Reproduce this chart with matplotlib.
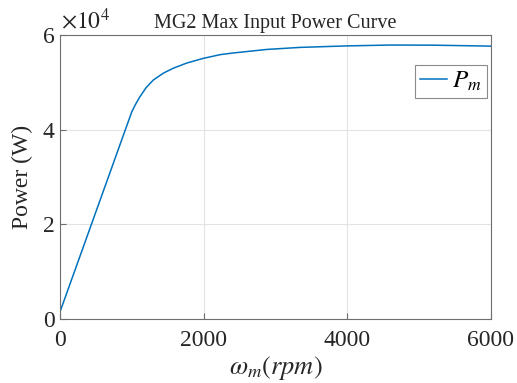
import matplotlib
matplotlib.use("Agg")
import matplotlib.pyplot as plt
from matplotlib.ticker import FuncFormatter

rpm = [0, 1000, 1050, 1110, 1200, 1300, 1440, 1580, 1760, 1990, 2230, 2410, 2880, 3340, 4000, 4600, 5200, 6000]
power = [1500, 43800, 45300, 46900, 48900, 50500, 51950, 53000, 54050, 55050, 55850, 56200, 56950, 57380, 57700, 57880, 57850, 57650]
xticks = [0, 2000, 4000, 6000]
yticks = [0, 20000, 40000, 60000]

plt.rcParams['font.family'] = ['Liberation Serif', 'DejaVu Serif']
plt.rcParams['mathtext.fontset'] = 'stix'

fig = plt.figure(figsize=(5.17, 3.83), dpi=100)
ax = fig.add_axes([60/517, 1-319/383, 431/517, 284/383])
ax.plot(rpm, power, color=(0, 0.447, 0.741), lw=1.1, label=r'$P_m$')
ax.set_xlim(0, 6000)
ax.set_ylim(0, 60000)
ax.set_xticks(xticks)
ax.set_yticks(yticks)
ax.yaxis.set_major_formatter(FuncFormatter(lambda v, p: f"{v/1e4:g}"))
ax.grid(True, color='#e3e3e3', lw=0.8)
ax.set_axisbelow(True)
for s in ax.spines.values():
    s.set_color('#6e6e6e')
    s.set_linewidth(0.8)
ax.tick_params(direction='in', length=4, color='#6e6e6e', labelsize=17, labelcolor='#262626')
ax.tick_params(axis='x', pad=8)
ax.tick_params(axis='y', pad=4)
ax.set_xlabel(r'$\omega_m(rpm)$', fontsize=19, color='#262626', labelpad=2)
ax.set_ylabel('Power (W)', fontsize=17, color='#262626', labelpad=7)
ax.set_title('MG2 Max Input Power Curve', fontsize=14.5, color='#262626', pad=5)
ax.text(0.003, 1.005, r'$\times 10^4$', transform=ax.transAxes, fontsize=17, color='#262626', ha='left', va='bottom')
leg = ax.legend(loc='upper right', bbox_to_anchor=(0.99, 0.895), fontsize=18, frameon=True, fancybox=False,
                edgecolor='#6e6e6e', handlelength=1.1, handletextpad=0.2, borderpad=0.2, borderaxespad=0)
leg.get_frame().set_linewidth(0.8)
fig.savefig('out.png', dpi=100)
